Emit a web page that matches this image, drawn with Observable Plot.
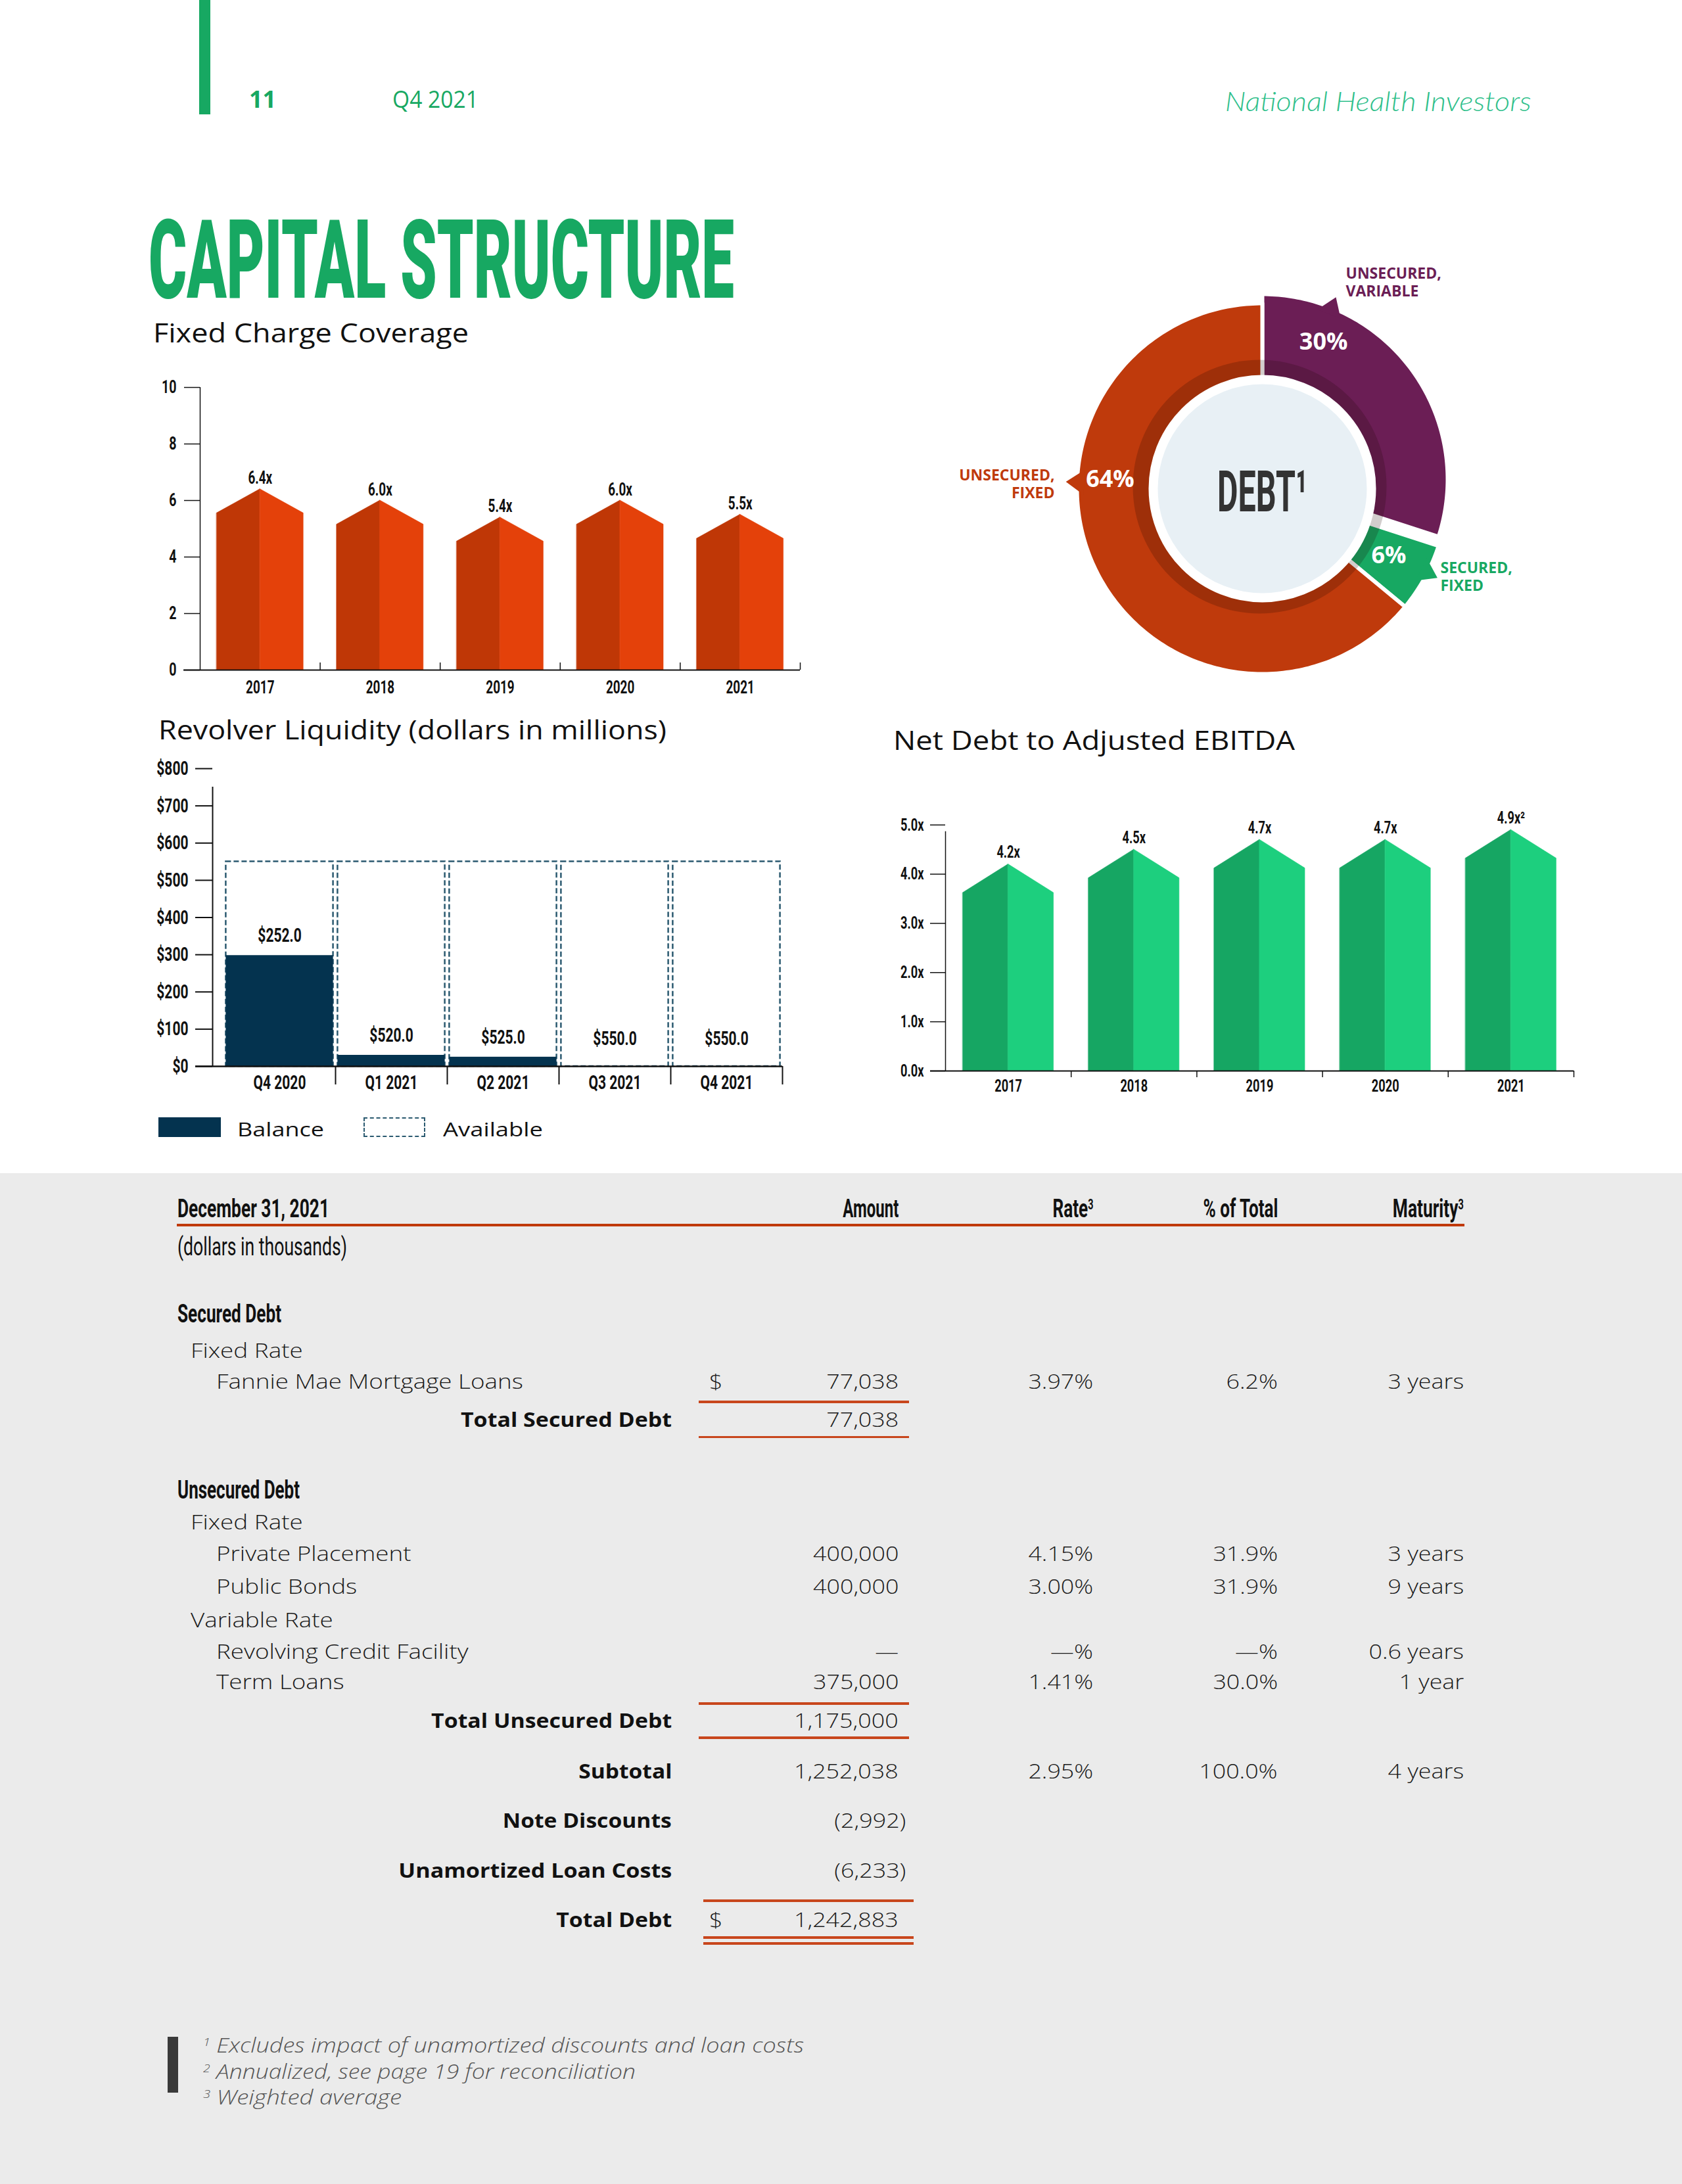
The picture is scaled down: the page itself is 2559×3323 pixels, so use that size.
<!DOCTYPE html>
<html><head><meta charset="utf-8">
<script src="https://cdn.jsdelivr.net/npm/d3@7"></script>
<script src="https://cdn.jsdelivr.net/npm/@observablehq/plot@0.6"></script>
<style>
html,body{margin:0;padding:0;background:#fff;}
#page{position:relative;width:2559px;height:3323px;overflow:hidden;background:#fff;font-family:"Open Sans",sans-serif;}
.t{position:absolute;white-space:nowrap;}
.box{position:absolute;}
.chart{position:absolute;}
.chart svg{overflow:visible;}
</style></head>
<body><div id="page"></div>
<script>
// ---------------- DATA ----------------
const fccYears = ["2017", "2018", "2019", "2020", "2021"];
const fccValues = [6.4, 6.0, 5.4, 6.0, 5.5];
const fccTicks = [0, 2, 4, 6, 8, 10];

const ndYears = ["2017", "2018", "2019", "2020", "2021"];
const ndValues = [4.2, 4.5, 4.7, 4.7, 4.9];
const ndLabels = ["4.2x", "4.5x", "4.7x", "4.7x", "4.9x²"];
const ndTicks = [0, 1, 2, 3, 4, 5];

const rlQuarters = ["Q4 2020", "Q1 2021", "Q2 2021", "Q3 2021", "Q4 2021"];
const rlBalance = [298, 30, 25, 0, 0];
const rlAvailable = [252.0, 520.0, 525.0, 550.0, 550.0];
const rlTicks = [0, 100, 200, 300, 400, 500, 600, 700, 800];

const debtSegments = ["UNSECURED,\nVARIABLE", "SECURED,\nFIXED", "UNSECURED,\nFIXED"];
const debtShares = [30, 6, 64];

const tableHeaders = ["Amount", "Rate", "% of Total", "Maturity"];
const securedNames = ["Fannie Mae Mortgage Loans"];
const securedAmounts = ["77,038"];
const securedRates = ["3.97%"];
const securedPct = ["6.2%"];
const securedMaturity = ["3 years"];
const unsecFixedNames = ["Private Placement", "Public Bonds"];
const unsecFixedAmounts = ["400,000", "400,000"];
const unsecFixedRates = ["4.15%", "3.00%"];
const unsecFixedPct = ["31.9%", "31.9%"];
const unsecFixedMaturity = ["3 years", "9 years"];
const unsecVarNames = ["Revolving Credit Facility", "Term Loans"];
const unsecVarAmounts = ["—", "375,000"];
const unsecVarRates = ["—%", "1.41%"];
const unsecVarPct = ["—%", "30.0%"];
const unsecVarMaturity = ["0.6 years", "1 year"];
const totalNames = ["Total Secured Debt", "Total Unsecured Debt", "Subtotal", "Note Discounts", "Unamortized Loan Costs", "Total Debt"];
const totalAmounts = ["77,038", "1,175,000", "1,252,038", "(2,992)", "(6,233)", "1,242,883"];
const subtotalRate = "2.95%", subtotalPct = "100.0%", subtotalMaturity = "4 years";
const footnotes = ["Excludes impact of unamortized discounts and loan costs", "Annualized, see page 19 for reconciliation", "Weighted average"];

// ---------------- HELPERS ----------------
const page = document.getElementById("page");
const GREEN = "#17a862", ORANGE = "#c0390a";
const capCenter = {"Open Sans": 0.531, "Roboto": 0.486, "Lato": 0.528};

function addText(html, o) {
  const size = o.size, family = o.family || "Open Sans", lh = o.lh || 1;
  const d = document.createElement("div");
  d.className = "t";
  d.innerHTML = html;
  Object.assign(d.style, {
    fontSize: size + "px", lineHeight: lh, fontFamily: `"${family}", sans-serif`, fontWeight: o.weight || 400,
    color: o.color || "#111", fontStyle: o.italic ? "italic" : "normal",
    top: (o.y - size * ((capCenter[family] || 0.52) + (lh - 1) / 2)) + "px", left: "0px"
  });
  page.appendChild(d);
  const w = d.getBoundingClientRect().width;
  const anchor = o.anchor || "start";
  let sx = o.fit ? o.fit / w : (o.cond || 1);
  const left = anchor === "start" ? o.x : anchor === "end" ? o.x - w : o.x - w / 2;
  d.style.left = left + "px";
  d.style.transformOrigin = (anchor === "start" ? "left" : anchor === "end" ? "right" : "center") + " center";
  if (sx !== 1) d.style.transform = `scaleX(${sx})`;
  return d;
}
function addBox(left, top, width, height, style) {
  const d = document.createElement("div");
  d.className = "box";
  Object.assign(d.style, {left: left + "px", top: top + "px", width: width + "px", height: height + "px"}, style || {});
  page.appendChild(d);
  return d;
}
function mount(svg, left, top) {
  const d = document.createElement("div");
  d.className = "chart";
  d.style.left = left + "px"; d.style.top = top + "px";
  d.appendChild(svg); page.appendChild(d);
  return svg;
}
// narrow the glyphs of SVG texts (condensed type look) without moving their anchors
function condense(svg, sx, filter) {
  svg.querySelectorAll("text").forEach(t => {
    if (filter && !filter(t)) return;
    const tspans = t.querySelectorAll("tspan");
    const targets = tspans.length ? [...tspans] : [t];
    targets.forEach(el => {
      const L = el.getComputedTextLength();
      if (L > 0) { el.setAttribute("textLength", (L * sx).toFixed(2)); el.setAttribute("lengthAdjust", "spacingAndGlyphs"); }
    });
  });
}
function houseShape(values, drop, half, dark, light) {
  return values.flatMap((v, i) => [
    {key: i + "L", x: i - half, y: v - drop, c: dark},
    {key: i + "L", x: i, y: v, c: dark},
    {key: i + "R", x: i, y: v, c: light},
    {key: i + "R", x: i + half, y: v - drop, c: light}
  ]);
}
const sup = n => `<span style="position:relative;top:-0.55em;font-size:0.55em">${n}</span>`;

// ---------------- HEADER ----------------
addBox(303, 0, 17, 174, {background: GREEN});
addText("11", {x: 379, y: 152, size: 36, weight: 700, color: GREEN});
addText("Q4 2021", {x: 597, y: 152, size: 36, weight: 400, color: GREEN, fit: 131});
addText("National Health Investors", {x: 2330, y: 154, size: 42, family: "Lato", weight: 300, italic: true, color: "#2fc08b", anchor: "end", fit: 466});
addText("CAPITAL STRUCTURE", {x: 226, y: 394, size: 167, lh: 0.8, family: "Roboto", weight: 900, color: GREEN, fit: 891});
addText("Fixed Charge Coverage", {x: 233, y: 507, size: 40, weight: 500, fit: 480});
addText("Revolver Liquidity (dollars in millions)", {x: 241, y: 1111, size: 40, weight: 500, fit: 773});
addText("Net Debt to Adjusted EBITDA", {x: 1359, y: 1127, size: 40, weight: 500, fit: 611});

// ---------------- CHART 1: Fixed Charge Coverage ----------------
const fccIdx = fccValues.map((_, i) => i);
const fcc = Plot.plot({
  width: 1050, height: 520, marginLeft: 104, marginRight: 33, marginTop: 29, marginBottom: 61,
  x: {domain: [-0.5, fccValues.length - 0.5], label: null},
  y: {domain: [0, 10], label: null},
  color: {type: "identity"},
  style: {fontFamily: "Roboto", fontWeight: 700, fontSize: "28px", color: "#111", background: "none", overflow: "visible"},
  marks: [
    Plot.areaY(houseShape(fccValues, 0.85, 0.361, "#bf3706", "#e4410a"), {x: "x", y1: 0, y2: "y", z: "key", fill: "c", stroke: "c", strokeWidth: 0.6}),
    Plot.ruleX([-0.5], {y1: 0, y2: 10, stroke: "#111", strokeWidth: 1.5}),
    Plot.ruleX(fccIdx.map(i => i + 0.5), {y1: 0, y2: 0, insetTop: -11, stroke: "#111", strokeWidth: 1.5}),
    Plot.ruleY([0], {insetLeft: -25, stroke: "#111", strokeWidth: 2}),
    Plot.axisY(fccTicks, {tickSize: 24, tickPadding: 12, fontSize: 28, strokeWidth: 1.5, label: null}),
    Plot.axisX(fccIdx, {tickSize: 0, tickPadding: 16, tickFormat: i => fccYears[i], fontSize: 27, label: null}),
    Plot.text(fccValues, {x: (d, i) => i, y: d => d, text: d => d.toFixed(1) + "x", dy: -8, lineAnchor: "bottom", fontSize: 27, fill: "#111"})
  ]
});
mount(fcc, 200, 560);
condense(fcc, 0.7);

// ---------------- CHART 2: Revolver Liquidity ----------------
const rlIdx = rlQuarters.map((_, i) => i);
const rlTotal = rlBalance.map((b, i) => b + rlAvailable[i]);
const rlHalf = 0.48;
const rl = Plot.plot({
  width: 1050, height: 540, marginLeft: 123, marginRight: 60, marginTop: 29, marginBottom: 58,
  x: {domain: [-0.6, rlQuarters.length - 0.5], label: null},
  y: {domain: [0, 800], label: null},
  style: {fontFamily: "Roboto", fontWeight: 700, fontSize: "30px", color: "#111", background: "none", overflow: "visible"},
  marks: [
    Plot.rect(rlIdx, {x1: i => i - rlHalf, x2: i => i + rlHalf, y1: 0, y2: i => rlTotal[i], fill: "white", stroke: "#2b5a70", strokeWidth: 2.5, strokeDasharray: "8,4"}),
    Plot.rect(rlIdx, {x1: i => i - rlHalf, x2: i => i + rlHalf, y1: 0, y2: i => rlBalance[i], fill: "#04334f"}),
    Plot.ruleX([-0.6], {y1: 0, y2: 800, insetBottom: -28, stroke: "#111", strokeWidth: 2}),
    Plot.ruleX(rlIdx.map(i => i + 0.5), {y1: 0, y2: 0, insetBottom: -28, stroke: "#111", strokeWidth: 2}),
    Plot.ruleY([0], {insetLeft: -26, stroke: "#111", strokeWidth: 2.5}),
    Plot.axisY(rlTicks, {tickSize: 26, tickPadding: 11, tickFormat: d => "$" + d, fontSize: 30, strokeWidth: 2, label: null}),
    Plot.axisX(rlIdx, {tickSize: 0, tickPadding: 13, tickFormat: i => rlQuarters[i], fontSize: 30, label: null}),
    Plot.text(rlIdx, {x: i => i, y: i => Math.max(rlBalance[i], 22), text: i => "$" + rlAvailable[i].toFixed(1), dy: -30, fontSize: 30, fill: "#111"})
  ]
});
mount(rl, 200, 1140);
condense(rl, 0.7);

// legend
addBox(241, 1700, 95, 30, {background: "#04334f"});
addText("Balance", {x: 361, y: 1719, size: 30, weight: 500, fit: 132});
addBox(553, 1700, 94, 30, {border: "2.5px dashed #2b5a70", boxSizing: "border-box"});
addText("Available", {x: 674, y: 1719, size: 30, weight: 500, fit: 152});

// ---------------- CHART 3: Net Debt to Adjusted EBITDA ----------------
const ndIdx = ndValues.map((_, i) => i);
const nd = Plot.plot({
  width: 1150, height: 520, marginLeft: 138, marginRight: 56, marginTop: 74.7, marginBottom: 71,
  x: {domain: [-0.5, ndValues.length - 0.5], label: null},
  y: {domain: [0, 5], label: null},
  color: {type: "identity"},
  style: {fontFamily: "Roboto", fontWeight: 700, fontSize: "26px", color: "#111", background: "none", overflow: "visible"},
  marks: [
    Plot.areaY(houseShape(ndValues, 0.58, 0.361, "#16a663", "#1dcf7e"), {x: "x", y1: 0, y2: "y", z: "key", fill: "c", stroke: "c", strokeWidth: 0.6}),
    Plot.ruleX([-0.5], {y1: 0, y2: 5, insetBottom: -10, stroke: "#111", strokeWidth: 1.5}),
    Plot.ruleX(ndIdx.map(i => i + 0.5), {y1: 0, y2: 0, insetBottom: -10, stroke: "#111", strokeWidth: 1.5}),
    Plot.ruleY([0], {insetLeft: -23, stroke: "#111", strokeWidth: 2}),
    Plot.axisY(ndTicks, {tickSize: 23, tickPadding: 10, tickFormat: d => d.toFixed(1) + "x", fontSize: 26, strokeWidth: 1.5, label: null}),
    Plot.axisX(ndIdx, {tickSize: 0, tickPadding: 13, tickFormat: i => ndYears[i], fontSize: 26, label: null}),
    Plot.text(ndIdx, {x: i => i, y: i => ndValues[i], text: i => ndLabels[i], dy: -10, lineAnchor: "bottom", fontSize: 26, fill: "#111"})
  ]
});
mount(nd, 1300, 1180);
condense(nd, 0.7);

// ---------------- DONUT: Debt ----------------
const debtColors = ["#6b1e55", "#17a862", "#bf3a0c"];
const R = 282, R0 = 150;
const explodeY = [-14, 0, 0];
const rad = a => a * Math.PI / 180;
const ringPts = [];
const pointerPts = [];
const pointerAngle = [22, 117, 272];
let acc = 0;
debtShares.forEach((s, k) => {
  const a0 = acc * 3.6, a1 = (acc + s) * 3.6; acc += s;
  const n = Math.max(4, Math.ceil(a1 - a0));
  for (let j = 0; j <= n; j++) { const a = rad(a0 + (a1 - a0) * j / n); ringPts.push({k, x: R * Math.sin(a), y: -R * Math.cos(a) + explodeY[k], c: debtColors[k]}); }
  for (let j = n; j >= 0; j--) { const a = rad(a0 + (a1 - a0) * j / n); ringPts.push({k, x: R0 * Math.sin(a), y: -R0 * Math.cos(a) + explodeY[k], c: debtColors[k]}); }
  const pa = pointerAngle[k];
  [[R - 10, pa - 4], [R + 17, pa], [R - 10, pa + 4]].forEach(([r, a]) =>
    pointerPts.push({k, x: r * Math.sin(rad(a)), y: -r * Math.cos(rad(a)) + explodeY[k], c: debtColors[k]}));
});
const pctAngle = [24, 118, 273.5], pctRadius = [229, 218, 232];
const outerPos = [{x: 127, y: -338}, {x: 271, y: 110}, {x: -316, y: -31}];
const donut = Plot.plot({
  width: 1040, height: 720, margin: 0,
  x: {domain: [-520, 520], range: [0, 1040], axis: null},
  y: {domain: [-363, 357], range: [0, 720], axis: null},
  color: {type: "identity"},
  style: {fontFamily: "Open Sans", background: "none", overflow: "visible"},
  marks: [
    Plot.line(ringPts, {x: "x", y: "y", z: "k", fill: "c", stroke: "white", strokeWidth: 6, curve: "linear-closed"}),
    Plot.line(pointerPts, {x: "x", y: "y", z: "k", fill: "c", stroke: "none", curve: "linear-closed"}),
    Plot.dot([0], {x: 0, y: 0, r: 193, dx: -4, dy: -3, fill: "#1e0602", fillOpacity: 0.2, stroke: "none"}),
    Plot.dot([0], {x: 0, y: 0, r: 166, fill: "#e8f0f5", stroke: "white", strokeWidth: 14}),
    Plot.text(debtShares, {x: (d, k) => pctRadius[k] * Math.sin(rad(pctAngle[k])), y: (d, k) => -pctRadius[k] * Math.cos(rad(pctAngle[k])) + explodeY[k],
      text: d => d + "%", fill: "white", fontSize: 36, fontWeight: 700, fontFamily: "Open Sans"}),
    Plot.text([0, 1], {x: k => outerPos[k].x, y: k => outerPos[k].y, text: k => debtSegments[k], fill: k => debtColors[k],
      textAnchor: "start", lineAnchor: "top", lineHeight: 1.15, fontSize: 23, fontWeight: 700, fontFamily: "Open Sans"}),
    Plot.text([2], {x: k => outerPos[k].x, y: k => outerPos[k].y, text: k => debtSegments[k], fill: k => debtColors[k],
      textAnchor: "end", lineAnchor: "top", lineHeight: 1.15, fontSize: 23, fontWeight: 700, fontFamily: "Open Sans"}),
    Plot.text(["DEBT¹"], {x: 0, y: 6, text: d => d, fontSize: 88, fontWeight: 700, fontFamily: "Roboto", fill: "#333"})
  ]
});
mount(donut, 1400, 380);
condense(donut, 0.55, t => t.textContent.includes("DEBT"));

// ---------------- TABLE ----------------
addBox(0, 1785, 2559, 1538, {background: "#ebebeb"});
const C_AMT = 1367, C_RATE = 1663, C_PCT = 1944, C_MAT = 2227, C_DOLLAR = 1079, C_LABEL_END = 1022;
const L0 = 270, L1 = 290, L2 = 329;
const nameStyle = {size: 32, weight: 300, color: "#1a1a1a", cond: 1.15};
const body = {size: 32, weight: 300, color: "#1a1a1a", cond: 1.12};
const bold = {size: 31, weight: 700, color: "#111", anchor: "end"};
const cond = {size: 39, family: "Roboto", weight: 700, color: "#111"};

addText("December 31, 2021", {...cond, x: L0, y: 1839, fit: 231});
addText(tableHeaders[0], {...cond, x: C_AMT, y: 1839, anchor: "end", fit: 85});
addText(tableHeaders[1] + sup(3), {...cond, x: C_RATE, y: 1839, anchor: "end", fit: 62});
addText(tableHeaders[2], {...cond, x: C_PCT, y: 1839, anchor: "end", fit: 114});
addText(tableHeaders[3] + sup(3), {...cond, x: C_MAT, y: 1839, anchor: "end", fit: 108});
addBox(269, 1862, 1959, 4, {background: ORANGE});
addText("(dollars in thousands)", {...cond, weight: 400, x: L0, y: 1897, fit: 258});

addText("Secured Debt", {...cond, x: L0, y: 1999, fit: 158});
addText("Fixed Rate", {...nameStyle, x: L1, y: 2055});
function dataRow(y, name, amt, rate, pct, mat, dollar) {
  addText(name, {...nameStyle, x: L2, y});
  if (dollar) addText("$", {...body, x: C_DOLLAR, y});
  addText(amt, {...body, x: C_AMT, y, anchor: "end"});
  addText(rate, {...body, x: C_RATE, y, anchor: "end"});
  addText(pct, {...body, x: C_PCT, y, anchor: "end"});
  addText(mat, {...body, x: C_MAT, y, anchor: "end"});
}
const secY = [2102];
securedNames.forEach((n, i) => dataRow(secY[i], n, securedAmounts[i], securedRates[i], securedPct[i], securedMaturity[i], true));
const ruleStyle = {background: "#c8461c"};
const totalWidths = [321, 366, 142, 257, 416, 176];
addBox(1063, 2131, 320, 4, ruleStyle);
addText(totalNames[0], {...bold, x: C_LABEL_END, y: 2160, fit: totalWidths[0]});
addText(totalAmounts[0], {...body, x: C_AMT, y: 2160, anchor: "end"});
addBox(1063, 2185, 320, 3, ruleStyle);

addText("Unsecured Debt", {...cond, x: L0, y: 2267, fit: 186});
addText("Fixed Rate", {...nameStyle, x: L1, y: 2316});
const ufY = [2364, 2414];
unsecFixedNames.forEach((n, i) => dataRow(ufY[i], n, unsecFixedAmounts[i], unsecFixedRates[i], unsecFixedPct[i], unsecFixedMaturity[i], false));
addText("Variable Rate", {...nameStyle, x: L1, y: 2465});
const uvY = [2513, 2559];
unsecVarNames.forEach((n, i) => dataRow(uvY[i], n, unsecVarAmounts[i], unsecVarRates[i], unsecVarPct[i], unsecVarMaturity[i], false));
addBox(1063, 2590, 320, 4, ruleStyle);
addText(totalNames[1], {...bold, x: C_LABEL_END, y: 2618, fit: totalWidths[1]});
addText(totalAmounts[1], {...body, x: C_AMT, y: 2618, anchor: "end"});
addBox(1063, 2642, 320, 4, ruleStyle);

addText(totalNames[2], {...bold, x: C_LABEL_END, y: 2695, fit: totalWidths[2]});
addText(totalAmounts[2], {...body, x: C_AMT, y: 2695, anchor: "end"});
addText(subtotalRate, {...body, x: C_RATE, y: 2695, anchor: "end"});
addText(subtotalPct, {...body, x: C_PCT, y: 2695, anchor: "end"});
addText(subtotalMaturity, {...body, x: C_MAT, y: 2695, anchor: "end"});

addText(totalNames[3], {...bold, x: C_LABEL_END, y: 2770, fit: totalWidths[3]});
addText(totalAmounts[3], {...body, x: C_AMT + 11, y: 2770, anchor: "end"});
addText(totalNames[4], {...bold, x: C_LABEL_END, y: 2846, fit: totalWidths[4]});
addText(totalAmounts[4], {...body, x: C_AMT + 11, y: 2846, anchor: "end"});
addBox(1070, 2890, 320, 4, ruleStyle);
addText(totalNames[5], {...bold, x: C_LABEL_END, y: 2921, fit: totalWidths[5]});
addText("$", {...body, x: C_DOLLAR, y: 2921});
addText(totalAmounts[5], {...body, x: C_AMT, y: 2921, anchor: "end"});
addBox(1070, 2946, 320, 4, ruleStyle);
addBox(1070, 2955, 320, 4, ruleStyle);

// ---------------- FOOTNOTES ----------------
addBox(255, 3099, 16, 85, {background: "#3a3a3a"});
const fnY = [3112, 3152, 3191];
const fnWidths = [914, 658, 302];
footnotes.forEach((f, i) => addText(sup(i + 1) + " " + f, {x: 309, y: fnY[i], size: 31, weight: 300, italic: true, color: "#555", fit: fnWidths[i]}));
</script>
</body></html>
